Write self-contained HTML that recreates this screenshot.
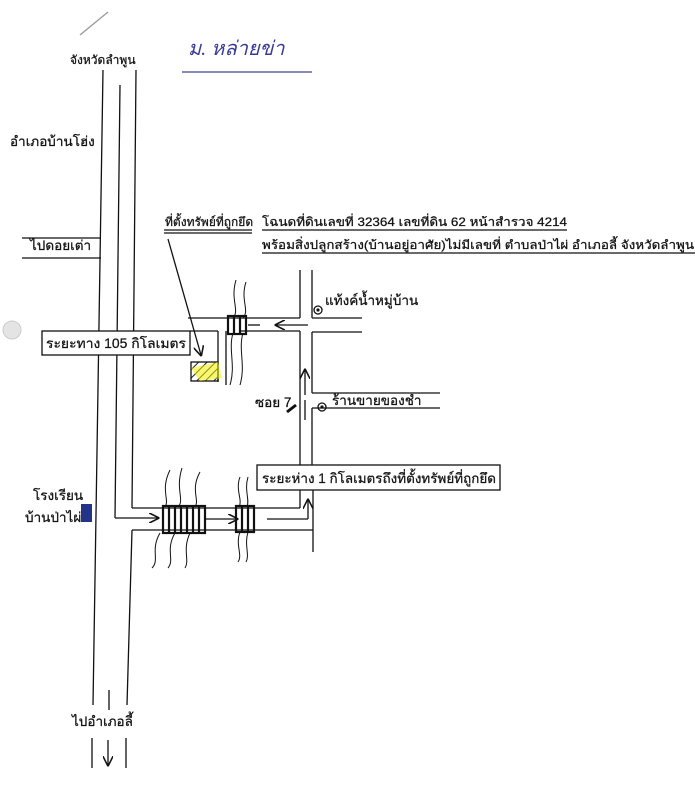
<!DOCTYPE html>
<html><head><meta charset="utf-8">
<style>
html,body{margin:0;padding:0;background:#fff;}
svg{display:block;}
text{font-family:"Liberation Sans","Noto Sans CJK SC","WenQuanYi Zen Hei",sans-serif;fill:#111;font-size:12px;stroke:#111;stroke-width:0.25;}
.big{font-size:13.5px;}
</style></head><body>
<svg width="695" height="800" viewBox="0 0 695 800" xmlns="http://www.w3.org/2000/svg">
<defs>
<marker id="ah" markerWidth="8" markerHeight="8" refX="7" refY="4" orient="auto"><path d="M0,0 L8,4 L0,8" fill="none" stroke="#111" stroke-width="1.2"/></marker>
<pattern id="hatch" width="6" height="6" patternUnits="userSpaceOnUse" patternTransform="rotate(45)"><line x1="0" y1="0" x2="0" y2="6" stroke="#222" stroke-width="2"/></pattern>
</defs>
<g stroke="#111" stroke-width="1.3" fill="none">
<line x1="182" y1="72" x2="312" y2="72" stroke="#44449a"/>
<!-- main road -->
<line x1="103" y1="70" x2="93" y2="705"/>
<line x1="136" y1="70" x2="132" y2="508"/>
<line x1="132" y1="530" x2="127" y2="705"/>
<line x1="120" y1="85" x2="115" y2="518"/>
<line x1="115" y1="518" x2="158" y2="518" marker-end="url(#ah)"/>
<line x1="92" y1="738" x2="92" y2="768"/>
<line x1="126" y1="738" x2="126" y2="768"/>
<line x1="109" y1="690" x2="109" y2="710"/>
<line x1="108" y1="740" x2="108" y2="765" marker-end="url(#ah)"/>
<line x1="80" y1="35" x2="108" y2="12" stroke="#999"/>
<line x1="22" y1="238" x2="101" y2="238"/>
<line x1="22" y1="258" x2="101" y2="258"/>
<!-- upper branch -->
<line x1="188" y1="318" x2="300" y2="318"/>
<line x1="190" y1="331" x2="218" y2="331"/>
<line x1="218" y1="331" x2="218" y2="382"/>
<line x1="226" y1="331" x2="226" y2="385"/>
<line x1="240" y1="331" x2="300" y2="331"/>
<line x1="300" y1="331" x2="300" y2="470"/>
<line x1="300" y1="270" x2="300" y2="318"/>
<line x1="312" y1="270" x2="312" y2="318"/>
<line x1="312" y1="318" x2="362" y2="318"/>
<line x1="312" y1="332" x2="362" y2="332"/>
<line x1="312" y1="332" x2="312" y2="393"/>
<line x1="312" y1="408" x2="312" y2="465"/>
<line x1="312" y1="393" x2="440" y2="393"/>
<line x1="312" y1="408" x2="440" y2="408"/>
<line x1="308" y1="325" x2="276" y2="325" marker-end="url(#ah)"/>
<line x1="260" y1="325" x2="248" y2="325"/>
<line x1="305" y1="395" x2="305" y2="370" marker-end="url(#ah)"/>
<line x1="305" y1="420" x2="305" y2="400"/>
<line x1="296" y1="405" x2="287" y2="412" stroke-width="3"/>
<!-- lower road -->
<line x1="132" y1="508" x2="300" y2="508"/>
<line x1="300" y1="490" x2="300" y2="508"/>
<line x1="313" y1="490" x2="313" y2="552"/>
<line x1="132" y1="530" x2="313" y2="530"/>
<line x1="205" y1="519" x2="237" y2="519" marker-end="url(#ah)"/>
<line x1="267" y1="519" x2="308" y2="519"/>
<line x1="308" y1="519" x2="308" y2="500" marker-end="url(#ah)"/>
<line x1="168" y1="239" x2="201" y2="355" marker-end="url(#ah)"/>
<line x1="164" y1="230" x2="252" y2="230"/>
<line x1="164" y1="233" x2="252" y2="233"/>
<line x1="262" y1="230" x2="567" y2="230"/>
<line x1="262" y1="253" x2="695" y2="253"/>
<rect x="42" y="331" width="148" height="24" fill="#fff"/>
<rect x="257" y="465" width="243" height="25" fill="#fff"/>
</g>
<g stroke="#111" stroke-width="1" fill="none">
<path d="M236,280 C230,300 240,310 233,318 M246,282 C240,300 250,310 243,318"/>
<path d="M233,333 C228,350 236,365 230,385 M243,333 C238,350 246,365 240,385"/>
<path d="M170,470 C160,490 170,500 165,507 M182,468 C175,490 185,500 178,507 M200,472 C190,490 200,500 195,507"/>
<path d="M160,533 C150,550 160,560 152,568 M175,533 C165,550 175,560 168,568 M190,533 C182,550 190,560 185,568"/>
<path d="M240,477 C235,490 243,500 239,507 M248,477 C244,490 250,500 247,507"/>
<path d="M240,532 C235,545 243,555 238,562 M248,532 C244,545 250,555 246,562"/>
</g>
<g stroke="#111" stroke-width="2.2">
<rect x="228" y="316" width="18" height="18" fill="none"/>
<line x1="234" y1="316" x2="234" y2="334"/><line x1="240" y1="316" x2="240" y2="334"/>
<rect x="163" y="506" width="42" height="27" fill="none"/>
<line x1="169" y1="506" x2="169" y2="533"/><line x1="175" y1="506" x2="175" y2="533"/><line x1="181" y1="506" x2="181" y2="533"/><line x1="187" y1="506" x2="187" y2="533"/><line x1="193" y1="506" x2="193" y2="533"/><line x1="199" y1="506" x2="199" y2="533"/>
<rect x="236" y="506" width="18" height="26" fill="none"/>
<line x1="242" y1="506" x2="242" y2="532"/><line x1="248" y1="506" x2="248" y2="532"/>
</g>
<rect x="191" y="362" width="27" height="19" fill="url(#hatch)" stroke="#111" stroke-width="1.3"/>
<polygon points="191,368 218,362 222,378 200,381" fill="#f0f000" opacity="0.55"/>
<circle cx="318" cy="310" r="4" fill="none" stroke="#111" stroke-width="1.3"/><circle cx="318" cy="310" r="1.6" fill="#111"/>
<circle cx="322" cy="407" r="4" fill="none" stroke="#111" stroke-width="1.3"/><circle cx="322" cy="407" r="1.6" fill="#111"/>
<circle cx="12" cy="330" r="9" fill="#e4e4e4" stroke="#ccc"/>
<rect x="81" y="504" width="11" height="18" fill="#223388"/>
<text x="188" y="55" style="fill:#3a3a9a;stroke:none;font-family:'Liberation Serif',serif;font-style:italic;font-size:20px">ม. หล่ายข่า</text>
<text x="70" y="64">จังหวัดลำพูน</text>
<text class="big" x="10" y="146">อำเภอบ้านโฮ่ง</text>
<text class="big" x="30" y="250">ไปดอยเต่า</text>
<text x="165" y="226">ที่ตั้งทรัพย์ที่ถูกยึด</text>
<text x="262" y="226" textLength="305" lengthAdjust="spacingAndGlyphs">โฉนดที่ดินเลขที่ 32364 เลขที่ดิน 62 หน้าสำรวจ 4214</text>
<text x="262" y="249" textLength="432" lengthAdjust="spacingAndGlyphs">พร้อมสิ่งปลูกสร้าง(บ้านอยู่อาศัย)ไม่มีเลขที่ ตำบลป่าไผ่ อำเภอลี้ จังหวัดลำพูน</text>
<text class="big" x="46" y="348" textLength="140" lengthAdjust="spacingAndGlyphs">ระยะทาง 105 กิโลเมตร</text>
<text class="big" x="325" y="305">แท้งค์น้ำหมู่บ้าน</text>
<text class="big" x="255" y="407">ซอย 7</text>
<text class="big" x="332" y="405">ร้านขายของชำ</text>
<text class="big" x="262" y="483" textLength="234" lengthAdjust="spacingAndGlyphs">ระยะห่าง 1 กิโลเมตรถึงที่ตั้งทรัพย์ที่ถูกยึด</text>
<text class="big" x="33" y="500">โรงเรียน</text>
<text class="big" x="25" y="522">บ้านป่าไผ่</text>
<text class="big" x="72" y="726">ไปอำเภอลี้</text>
</svg>
</body></html>
